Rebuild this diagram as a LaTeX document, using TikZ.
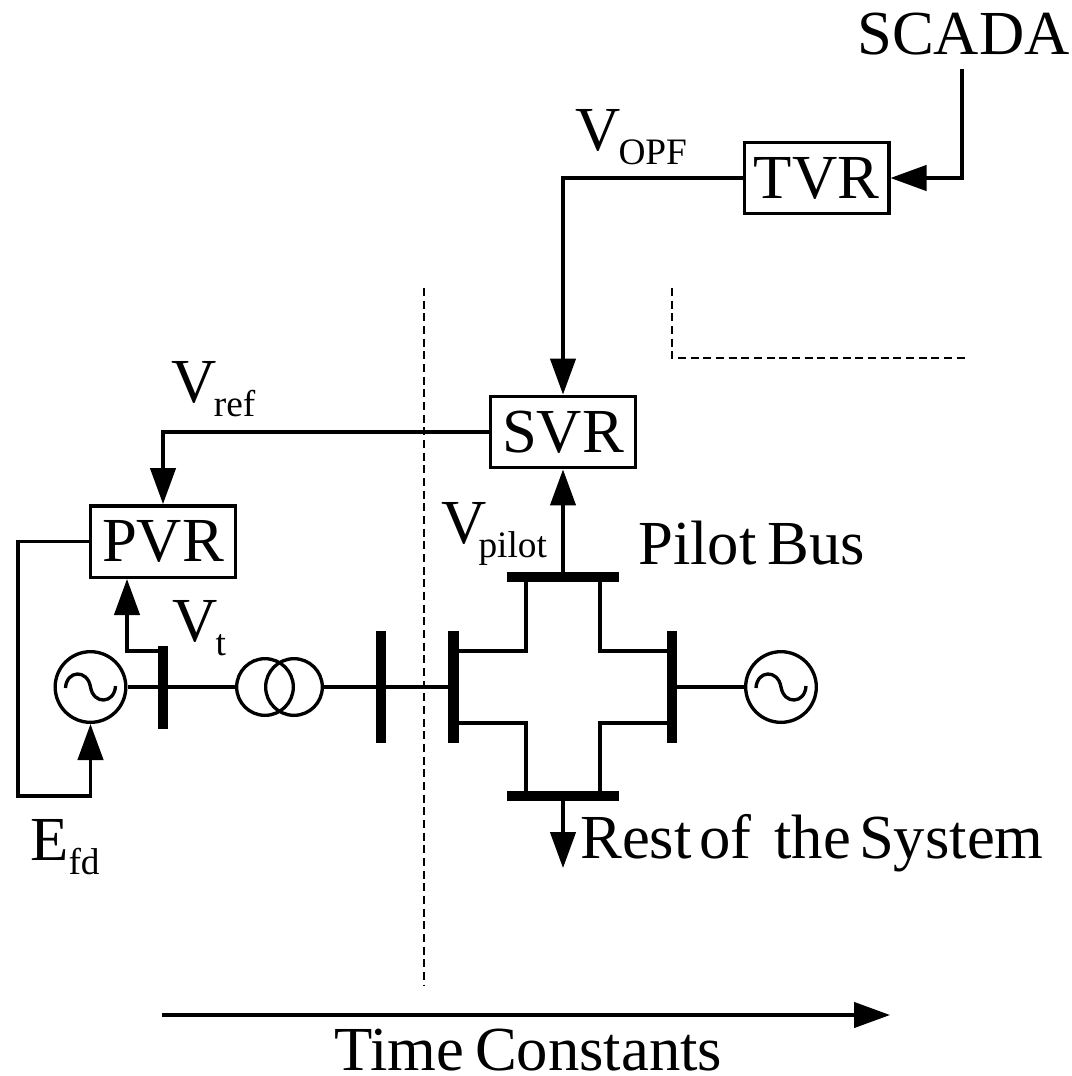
\documentclass[tikz,border=0pt]{standalone}
\usepackage{fontspec}
\setmainfont{Liberation Serif}
\usetikzlibrary{arrows.meta}
\tikzset{
  regbox/.style={draw,line width=2.6pt,minimum width=108.4pt,minimum height=53.6pt,inner sep=0pt,font=\fontsize{47}{47}\selectfont},
  gen/.style={draw,circle,line width=2.5pt,minimum size=53pt,inner sep=0pt},
  coil/.style={draw,circle,line width=2.5pt,minimum size=42.5pt,inner sep=0pt},
  wire/.style={line width=2.5pt},
  sig/.style={wire,-{Triangle[length=27pt,width=19pt]}},
  busbar/.style={line width=8.2pt},
  timeline/.style={wire,dash pattern=on 6pt off 3.5pt,line width=1.6pt},
  lab/.style={font=\fontsize{47}{47}\selectfont,inner sep=0pt,anchor=base west}
}
\newcommand{\sinewave}[1]{%
  \draw[wire] (#1) ++(-25,1) .. controls +(1,-18) and +(-3,-18) .. ++(25,-1) .. controls +(3,18) and +(-1,18) .. ++(25,-1);}
\newcommand{\sublab}[3]{#1\kern#2\raisebox{-11pt}{\fontsize{28}{28}\selectfont #3}}
\begin{document}
\begin{tikzpicture}[x=0.75pt,y=-0.75pt]
    \useasboundingbox (0,0) rectangle (1072,1076);
    % Regulators
    \node[regbox] (tvr) at (816.5,178) {TVR};
    \node[regbox] (svr) at (563,432) {SVR};
    \node[regbox] (pvr) at (163,541.5) {PVR};
    \node[lab] (scada) at (857,54) {SCADA};
    \coordinate (scadaout) at (962,69);
    % Machines and transformer
    \node[gen] (gena) at (90.5,687) {};
    \node[gen] (genb) at (781,687) {};
    \node[coil] (tra) at (265,687) {};
    \node[coil] (trb) at (294,687) {};
    \sinewave{gena}
    \sinewave{genb}
    % Buses
    \foreach \name/\x/\ya/\yb in {busa/163/646/729,busb/381/631/743,busc/453.7/631/743,busd/672/631/743} {
      \coordinate (\name) at (\x,687);
      \coordinate (\name-up) at (\x,651);
      \coordinate (\name-dn) at (\x,723);
      \draw[busbar] (\x,\ya) -- (\x,\yb);
    }
    \foreach \name/\y in {buse/577,busf/796} {
      \coordinate (\name) at (563,\y);
      \coordinate (\name-l) at (526,\y);
      \coordinate (\name-r) at (600,\y);
      \draw[busbar] (507,\y) -- (619,\y);
    }
    % Network
    \draw[wire] (gena) ++(37,0) -- (busa);
    \draw[wire] (busa) -- (tra.west);
    \draw[wire] (trb.east) -- (busb);
    \draw[wire] (busb) -- (busc);
    \draw[wire] (busd) -- (genb.west);
    \draw[wire] (busc-up) -| (buse-l);
    \draw[wire] (buse-r) |- (busd-up);
    \draw[wire] (busc-dn) -| (busf-l);
    \draw[wire] (busf-r) |- (busd-dn);
    % Control signals
    \coordinate (pvrin) at (127,579);
    \coordinate (fldcorner) at (18,796);
    \coordinate (fldend) at (90.5,796);
    \coordinate (loadend) at (563,868);
    \draw[sig] (scadaout) |- (tvr.east);
    \draw[sig] (tvr.west) -| (svr.north);
    \draw[sig] (svr.west) -| (pvr.north);
    \draw[sig] (buse) -- (svr.south);
    \draw[sig] (busa-up) -| (pvrin);
    \draw[sig] (pvr.west) -| (fldcorner) -- (fldend) -- (gena.south);
    \draw[sig] (busf) -- (loadend);
    % Time axis and separators
    \coordinate (ta) at (162,1015);
    \coordinate (tb) at (890,1015);
    \draw[sig] (ta) -- (tb);
    \draw[timeline] (424,288) -- (424,985);
    \draw[timeline] (672,288) -- (672,358) -- (965,358);
    % Labels
    \node[lab] (vopf) at (575,150) {\sublab{V}{-1.5pt}{OPF}};
    \node[lab] (vref) at (171,402) {\sublab{V}{-2pt}{ref}};
    \node[lab] (vpilot) at (441,543) {\sublab{V}{-6pt}{pilot}};
    \node[lab] (vt) at (172,641) {\sublab{V}{-1.5pt}{t}};
    \node[lab] (efd) at (30,860) {\sublab{E}{0pt}{fd}};
    \node[lab] (pilot) at (638,564) {Pilot\hspace{8pt}Bus};
    \node[lab] (rest) at (580,858) {Rest\hspace{6pt}of\hspace{17pt}the\hspace{6pt}System};
    \node[lab] (time) at (334,1070) {Time\hspace{8pt}Constants};
\end{tikzpicture}
\end{document}
